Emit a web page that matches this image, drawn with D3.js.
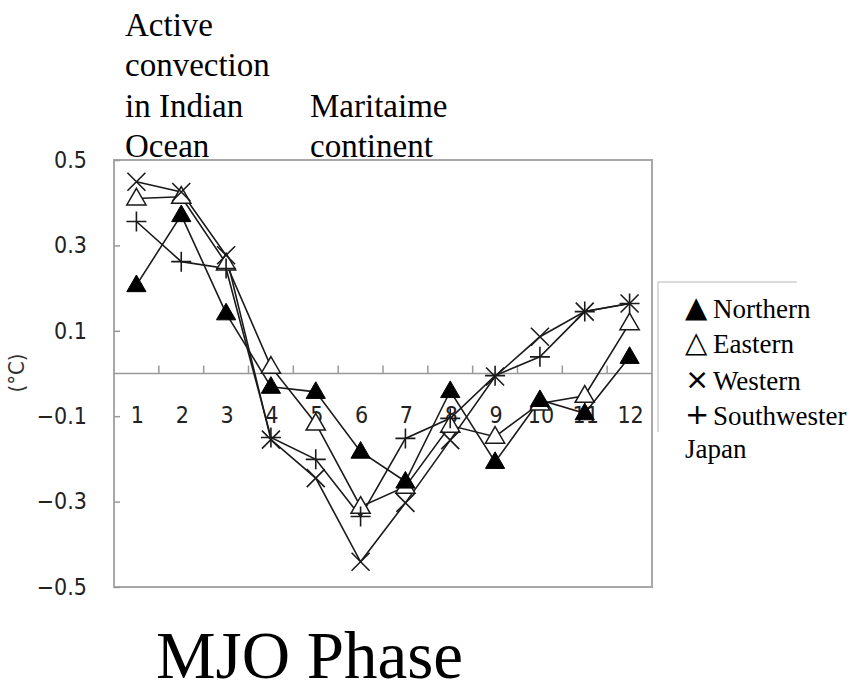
<!DOCTYPE html>
<html>
<head>
<meta charset="utf-8">
<script src="https://cdn.jsdelivr.net/npm/d3@7"></script>
<style>
  html, body { margin: 0; padding: 0; background: #fff; }
  svg { display: block; }
</style>
</head>
<body>
<svg id="chart" width="859" height="691"></svg>
<script>
// ---- data ----
const phases = ["1","2","3","4","5","6","7","8","9","10","11","12"];
const yTicks = [0.5, 0.3, 0.1, -0.1, -0.3, -0.5];
const northern  = [0.207, 0.371, 0.141, -0.031, -0.043, -0.183, -0.253, -0.041, -0.207, -0.062, -0.093, 0.039];
const eastern   = [0.410, 0.414, 0.258, 0.016, -0.117, -0.312, -0.265, -0.122, -0.148, -0.070, -0.052, 0.118];
const western   = [0.449, 0.425, 0.277, -0.155, -0.245, -0.441, -0.303, -0.156, -0.007, 0.086, 0.145, 0.164];
const southwest = [0.356, 0.262, 0.246, -0.150, -0.201, -0.335, -0.152, -0.105, -0.005, 0.039, 0.145, 0.164];
const seriesNames = ["Northern", "Eastern", "Western", "Southwester"];
const legendSymbols = ["▲", "△", "×", "+"];

// ---- layout ----
const svg = d3.select("#chart");
const L = 114, R = 652, T = 160, B = 587;
const x = d3.scaleBand().domain(phases).range([L, R]);
const y = d3.scaleLinear().domain([-0.5, 0.5]).range([B, T]);
const cx = d => x(d) + x.bandwidth() / 2;
const sans = "'DejaVu Sans Condensed', 'Liberation Sans Narrow', 'Liberation Sans', sans-serif";
const serif = "'Liberation Serif', 'DejaVu Serif', serif";
const ink = "#1a1a1a";

// frame
svg.append("rect").attr("x", L).attr("y", T).attr("width", R - L).attr("height", B - T)
  .attr("fill", "none").attr("stroke", "#a8a8a8").attr("stroke-width", 2);

// y axis ticks (inward) and labels
const yAxis = d3.axisLeft(y).tickValues(yTicks).tickSize(-6).tickPadding(27)
  .tickFormat(d => d3.format(".1f")(d).replace("-", "−"));
const gy = svg.append("g").attr("transform", `translate(${L},0)`).call(yAxis);
gy.select(".domain").remove();
gy.selectAll(".tick line").attr("stroke", "#999").attr("stroke-width", 1.5);
gy.selectAll(".tick text").attr("font-family", sans).attr("font-size", 23).attr("fill", "#222");

// zero line with upward ticks at band boundaries
svg.append("line").attr("x1", L).attr("x2", R).attr("y1", y(0)).attr("y2", y(0))
  .attr("stroke", "#999").attr("stroke-width", 1.6);
svg.append("g").selectAll("line").data(phases.slice(1)).join("line")
  .attr("x1", d => x(d)).attr("x2", d => x(d))
  .attr("y1", y(0)).attr("y2", y(0) - 8)
  .attr("stroke", "#999").attr("stroke-width", 1.5);

// category labels
svg.append("g").selectAll("text").data(phases).join("text")
  .attr("x", d => cx(d) + 1).attr("y", y(0) + 49)
  .attr("text-anchor", "middle")
  .attr("font-family", sans).attr("font-size", 23).attr("fill", "#222")
  .text(d => d);

// y title
svg.append("text").attr("transform", "translate(24,373) rotate(-90)")
  .attr("text-anchor", "middle").attr("font-family", sans).attr("font-size", 22).attr("fill", "#333")
  .text("(°C)");

// series
const all = [northern, eastern, western, southwest];
const line = d3.line().x((d, i) => cx(phases[i])).y(d => y(d));
svg.append("g").selectAll("path").data(all).join("path")
  .attr("d", d => line(d)).attr("fill", "none").attr("stroke", ink).attr("stroke-width", 1.6);

const tri = d3.symbol().type(d3.symbolTriangle).size(160);
function pts(arr) { return arr.map((v, i) => ({ p: phases[i], v })); }

// Eastern (open triangle)
svg.append("g").selectAll("path").data(pts(eastern)).join("path")
  .attr("transform", d => `translate(${cx(d.p)},${y(d.v) + 1})`)
  .attr("d", tri).attr("fill", "#fff").attr("stroke", ink).attr("stroke-width", 1.5);
// Northern (filled triangle)
svg.append("g").selectAll("path").data(pts(northern)).join("path")
  .attr("transform", d => `translate(${cx(d.p)},${y(d.v) + 1})`)
  .attr("d", tri).attr("fill", "#000").attr("stroke", "#000").attr("stroke-width", 1);
// Western (x)
const s = 9;
svg.append("g").selectAll("path").data(pts(western)).join("path")
  .attr("transform", d => `translate(${cx(d.p)},${y(d.v)})`)
  .attr("d", `M${-s},${-s}L${s},${s}M${-s},${s}L${s},${-s}`)
  .attr("fill", "none").attr("stroke", ink).attr("stroke-width", 1.6);
// Southwestern (+)
const p = 10;
svg.append("g").selectAll("path").data(pts(southwest)).join("path")
  .attr("transform", d => `translate(${cx(d.p)},${y(d.v)})`)
  .attr("d", `M${-p},0L${p},0M0,${-p}L0,${p}`)
  .attr("fill", "none").attr("stroke", ink).attr("stroke-width", 1.6);

// annotations
const ann1 = ["Active", "convection", "in Indian", "Ocean"];
const ann1Y = [36, 76, 117, 157];
svg.append("g").selectAll("text").data(ann1).join("text")
  .attr("x", 125).attr("y", (d, i) => ann1Y[i])
  .attr("font-family", serif).attr("font-size", 33).attr("fill", "#000").text(d => d);
const ann2 = ["Maritaime", "continent"];
const ann2Y = [117, 157];
svg.append("g").selectAll("text").data(ann2).join("text")
  .attr("x", 310).attr("y", (d, i) => ann2Y[i])
  .attr("font-family", serif).attr("font-size", 33).attr("fill", "#000").text(d => d);

// big title
svg.append("text").attr("x", 156).attr("y", 678)
  .attr("font-family", serif).attr("font-size", 67).attr("fill", "#000").text("MJO Phase");

// legend
svg.append("path").attr("d", "M797,282H658V432").attr("fill", "none")
  .attr("stroke", "#cfcfcf").attr("stroke-width", 1.5);
const legY = [318, 353, 390, 425];
const lg = svg.append("g").selectAll("g").data(seriesNames).join("g");
lg.append("text").attr("x", 685).attr("y", (d, i) => legY[i] - 1)
  .attr("font-family", "'DejaVu Sans', sans-serif").attr("font-size", 29).attr("fill", "#000")
  .text((d, i) => legendSymbols[i]);
lg.append("text").attr("x", 713).attr("y", (d, i) => legY[i])
  .attr("font-family", serif).attr("font-size", 27).attr("fill", "#000").text(d => d);
svg.append("text").attr("x", 685).attr("y", 458)
  .attr("font-family", serif).attr("font-size", 27).attr("fill", "#000").text("Japan");
</script>
</body>
</html>
